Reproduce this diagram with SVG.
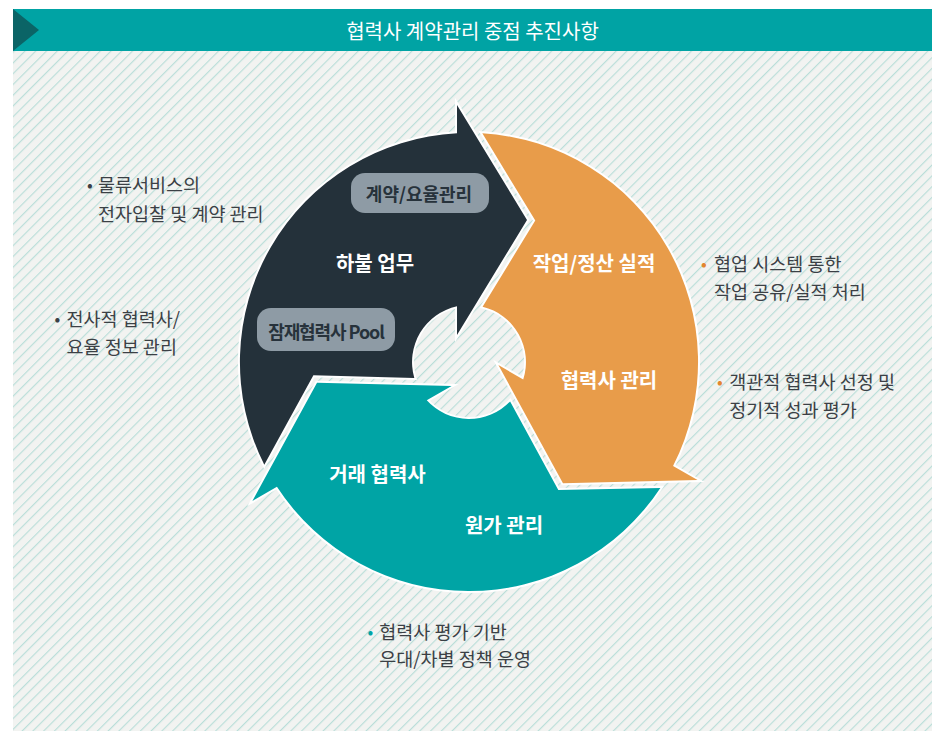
<svg xmlns="http://www.w3.org/2000/svg" xmlns:xlink="http://www.w3.org/1999/xlink" width="938" height="732" viewBox="0 0 938 732">
<style>
.t{font-family:"Noto Sans CJK KR","Noto Sans",sans-serif;}
.side{font-size:18.5px;fill:#3b4045;}
.lbl{font-size:20px;font-weight:700;fill:#ffffff;text-anchor:middle;}
.pill{font-size:18px;font-weight:700;fill:#27323b;text-anchor:middle;}
.bul{font-size:17px;text-anchor:middle;}
.arr{stroke:#ffffff;stroke-width:4;paint-order:stroke;stroke-linejoin:miter;}
</style>
<defs>
<pattern id="hatch" width="7.6" height="7.6" patternUnits="userSpaceOnUse" patternTransform="rotate(45)">
<rect width="7.6" height="7.6" fill="#f2f3f1"/>
<line x1="0.6" y1="0" x2="0.6" y2="7.6" stroke="#b7ddd8" stroke-width="1.1"/>
</pattern>
<path id="arrowShape" d="M457 133.3 L457 105 L527 220 L457 335 L457 306.3 A57 57 0 0 0 414.3 377.9 L313.4 375.3 L264.3 464.8 A229 229 0 0 1 457 133.3 Z"/>
</defs>
<rect x="0" y="0" width="938" height="732" fill="#ffffff"/>
<rect x="13" y="50" width="919" height="681" fill="url(#hatch)"/>
<g id="title">
<rect x="13" y="9" width="919" height="42" fill="#00a3a4"/>
<polygon points="13,9 39,30 13,51" fill="#0b6466"/>
<text class="t" x="472.5" y="38.5" font-size="20" fill="#ffffff" text-anchor="middle">협력사 계약관리 중점 추진사항</text>
</g>
<g id="node-dark">
<use xlink:href="#arrowShape" class="arr" fill="#24313a"/>
<rect x="351" y="173" width="138" height="40" rx="14" fill="#8e9ba5"/>
<text class="t pill" x="419" y="200.5">계약/요율관리</text>
<text class="t lbl" x="375" y="271">하불 업무</text>
<rect x="257" y="308" width="138" height="43" rx="14" fill="#8e9ba5"/>
<text class="t pill" x="326" y="338.5" font-size="17" letter-spacing="-1.1">잠재협력사 Pool</text>
</g>
<g id="node-orange">
<use xlink:href="#arrowShape" class="arr" fill="#e89c4a" transform="rotate(120 469 362)"/>
<text class="t lbl" x="594" y="271">작업/정산 실적</text>
<text class="t lbl" x="609" y="388">협력사 관리</text>
</g>
<g id="node-teal">
<use xlink:href="#arrowShape" class="arr" fill="#00a4a5" transform="rotate(240 469 362)"/>
<text class="t lbl" x="377.5" y="482">거래 협력사</text>
<text class="t lbl" x="504" y="533">원가 관리</text>
</g>
<g id="note-left-1">
<text class="t bul" x="90" y="191" fill="#3b4045">•</text>
<text class="t side" x="98" y="191.5">물류서비스의</text>
<text class="t side" x="98" y="220.5">전자입찰 및 계약 관리</text>
</g>
<g id="note-left-2">
<text class="t bul" x="57.5" y="325" fill="#3b4045">•</text>
<text class="t side" x="66.5" y="325.5">전사적 협력사/</text>
<text class="t side" x="66.5" y="353.5">요율 정보 관리</text>
</g>
<g id="note-right-1">
<text class="t bul" x="704" y="270" fill="#e2862f">•</text>
<text class="t side" x="714" y="270.5">협업 시스템 통한</text>
<text class="t side" x="714" y="298.5">작업 공유/실적 처리</text>
</g>
<g id="note-right-2">
<text class="t bul" x="720" y="388" fill="#e2862f">•</text>
<text class="t side" x="729.3" y="388.5">객관적 협력사 선정 및</text>
<text class="t side" x="729.3" y="417">정기적 성과 평가</text>
</g>
<g id="note-bottom">
<text class="t bul" x="370.5" y="638" fill="#00a4a5">•</text>
<text class="t side" x="379.3" y="638.5">협력사 평가 기반</text>
<text class="t side" x="379.3" y="665.5">우대/차별 정책 운영</text>
</g>
<g id="connectors"></g>
</svg>
